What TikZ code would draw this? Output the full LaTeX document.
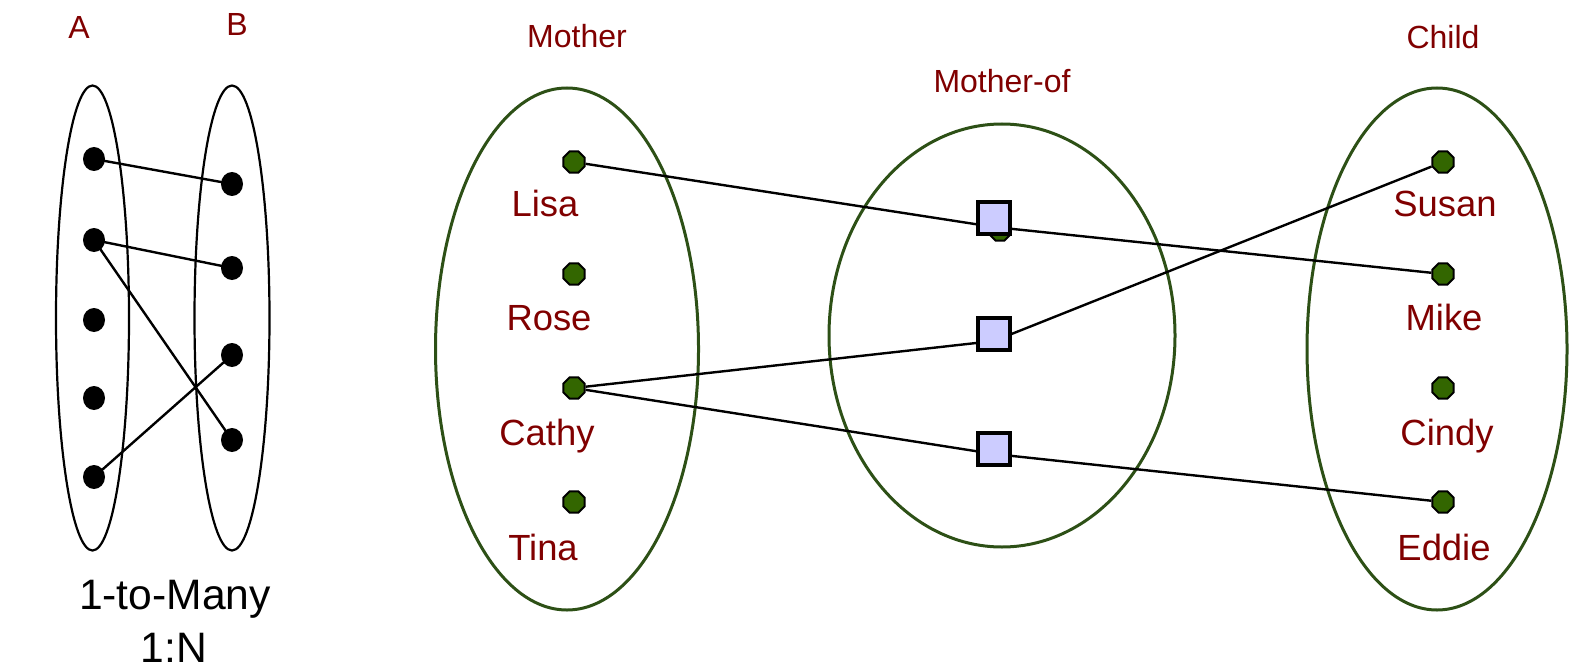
\documentclass[tikz,border=0pt]{standalone}
\usepackage{fontspec}
\setmainfont{Liberation Sans}
\usetikzlibrary{shapes.geometric}
\definecolor{labred}{RGB}{128,0,0}
\definecolor{egreen}{RGB}{45,80,22}
\definecolor{dgreen}{RGB}{51,102,0}
\definecolor{sqfill}{RGB}{204,204,255}
\begin{document}
\begin{tikzpicture}[x=0.5pt,y=-0.5pt,
  setline/.style={draw=egreen,line width=1.5pt},
  bsetline/.style={draw=black,line width=1.1pt},
  conn/.style={draw=black,line width=1.2pt},
  gdot/.style={regular polygon,regular polygon sides=8,minimum size=11.5pt,inner sep=0pt,fill=dgreen,draw=black,line width=1pt},
  bdot/.style={ellipse,minimum width=11pt,minimum height=12pt,inner sep=0pt,fill=black},
  sqbox/.style={rectangle,minimum size=16pt,inner sep=0pt,fill=sqfill,draw=black,line width=2pt},
  nmlabel/.style={text=labred,font=\fontsize{18.2}{18}\selectfont,anchor=base,inner sep=0pt},
  ttllabel/.style={text=labred,font=\fontsize{16}{16}\selectfont,anchor=base,inner sep=0pt},
  captlabel/.style={text=black,font=\fontsize{21.3}{21.3}\selectfont,anchor=base,inner sep=0pt}]
\useasboundingbox (0,0) rectangle (1577,668);
% ---- left: 1-to-many ----
\draw[bsetline] (92.5,318) ellipse [x radius=18.25pt, y radius=116.25pt];
\draw[bsetline] (232,318) ellipse [x radius=18.75pt, y radius=116.25pt];
\node[ttllabel] (lA) at (79,39) {A};
\node[ttllabel] (lB) at (237,36) {B};
\node[bdot] (a1) at (94,159) {};
\node[bdot] (a2) at (94,240) {};
\node[bdot] (a3) at (94,320) {};
\node[bdot] (a4) at (94,398) {};
\node[bdot] (a5) at (94,477) {};
\node[bdot] (b1) at (232,184) {};
\node[bdot] (b2) at (232,268) {};
\node[bdot] (b3) at (232,355) {};
\node[bdot] (b4) at (232,440) {};
\draw[conn] (a1.center) -- (b1.center);
\draw[conn] (a2.center) -- (b2.center);
\draw[conn] (a2.center) -- (b4.center);
\draw[conn] (a5.center) -- (b3.center);
\node[captlabel] (c1) at (175,609) {1-to-Many};
\node[captlabel] (c2) at (174,662) {1:N};
% ---- right: mother-of ----
\draw[setline] (567,349) ellipse [x radius=65.75pt, y radius=130.5pt];
\draw[setline] (1002,335.5) ellipse [x radius=86.5pt, y radius=105.75pt];
\draw[setline] (1437,349) ellipse [x radius=65pt, y radius=130.5pt];
\node[ttllabel] (tM) at (577,48) {Mother};
\node[ttllabel] (tR) at (1002,93) {Mother-of};
\node[ttllabel] (tC) at (1443,49) {Child};
\node[nmlabel] (nLisa) at (545,216) {Lisa};
\node[nmlabel] (nRose) at (549,330) {Rose};
\node[nmlabel] (nCathy) at (547,445) {Cathy};
\node[nmlabel] (nTina) at (543,560) {Tina};
\node[nmlabel] (nSusan) at (1445,216) {Susan};
\node[nmlabel] (nMike) at (1444,330) {Mike};
\node[nmlabel] (nCindy) at (1447,445) {Cindy};
\node[nmlabel] (nEddie) at (1444,560) {Eddie};
\coordinate (p1) at (994,227);
\coordinate (p2) at (994,341);
\coordinate (p3) at (994,454);
\node[gdot] (hid) at (1000,230) {};
\node[gdot] (lisa) at (574,162) {};
\node[gdot] (rose) at (574,274) {};
\node[gdot] (cathy) at (574,388) {};
\node[gdot] (tina) at (574,502) {};
\node[gdot] (susan) at (1443,162) {};
\node[gdot] (mike) at (1443,274) {};
\node[gdot] (cindy) at (1443,388) {};
\node[gdot] (eddie) at (1443,502) {};
\draw[conn] (lisa) -- (p1) -- (mike);
\draw[conn] (cathy) -- (p2) -- (susan);
\draw[conn] (cathy) -- (p3) -- (eddie);
\node[sqbox] (sq1) at (994,218) {};
\node[sqbox] (sq2) at (994,334) {};
\node[sqbox] (sq3) at (994,449) {};
\end{tikzpicture}
\end{document}
